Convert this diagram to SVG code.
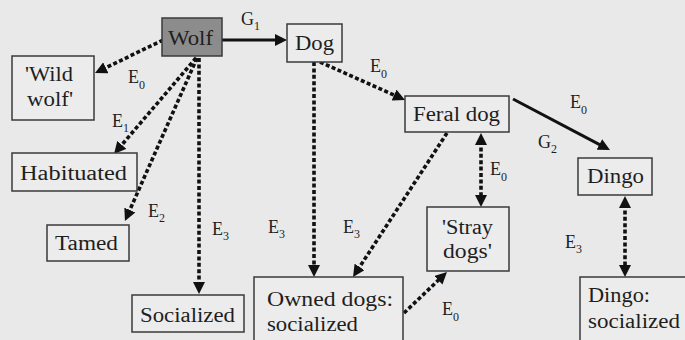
<svg xmlns="http://www.w3.org/2000/svg" width="685" height="340" viewBox="0 0 685 340">
<style>
.bg{fill:#e9e9e9}
.box{fill:#ececec;stroke:#3a3a3a;stroke-width:1.5}
.wolf{fill:#8c8c8c;stroke:#3a3a3a;stroke-width:1.5}
text{font-family:"Times New Roman","Liberation Serif","DejaVu Serif","Noto Serif",Georgia,serif}
.t{font-size:20px;fill:#1e1e1e}
.lb{font-size:18px;fill:#1e1e1e}
.sub{font-size:12px}
.dot{fill:none;stroke:#111;stroke-width:3.6;stroke-dasharray:4 2.4}
.sol{fill:none;stroke:#111;stroke-width:3}
</style>
<defs>
<marker id="ah" viewBox="0 0 12 12" markerWidth="12" markerHeight="12" refX="4" refY="6" orient="auto-start-reverse" markerUnits="userSpaceOnUse">
<path d="M0,0 L12,6 L0,12 z" fill="#111"/>
</marker>
</defs>
<rect class="bg" x="0" y="0" width="685" height="340"/>

<g id="connectors">
<line class="dot" x1="163" y1="40" x2="102.2" y2="69.5" marker-end="url(#ah)"/>
<line class="dot" x1="196" y1="58" x2="119.2" y2="147.9" marker-end="url(#ah)"/>
<line class="dot" x1="197" y1="58" x2="128.2" y2="213.7" marker-end="url(#ah)"/>
<line class="dot" x1="199" y1="58" x2="199" y2="286" marker-end="url(#ah)"/>
<line class="sol" x1="222" y1="40" x2="279" y2="40" marker-end="url(#ah)"/>
<line class="dot" x1="320" y1="62" x2="397.7" y2="96.7" marker-end="url(#ah)"/>
<line class="dot" x1="314" y1="62" x2="314" y2="269" marker-end="url(#ah)"/>
<line class="dot" x1="447" y1="133" x2="357.4" y2="270.3" marker-end="url(#ah)"/>
<line class="sol" x1="513" y1="99" x2="602.9" y2="146.3" marker-end="url(#ah)"/>
<line class="dot" x1="481" y1="141" x2="481" y2="199" marker-start="url(#ah)" marker-end="url(#ah)"/>
<line class="dot" x1="404" y1="313" x2="441.2" y2="277.5" marker-end="url(#ah)"/>
<line class="dot" x1="625" y1="204" x2="625" y2="269" marker-start="url(#ah)" marker-end="url(#ah)"/>

<text class="lb" x="241" y="25">G<tspan class="sub" dy="5">1</tspan></text>
<text class="lb" x="128" y="83">E<tspan class="sub" dy="6">0</tspan></text>
<text class="lb" x="112" y="127">E<tspan class="sub" dy="5">1</tspan></text>
<text class="lb" x="148" y="217">E<tspan class="sub" dy="5">2</tspan></text>
<text class="lb" x="212" y="235">E<tspan class="sub" dy="5">3</tspan></text>
<text class="lb" x="268" y="233">E<tspan class="sub" dy="5">3</tspan></text>
<text class="lb" x="343" y="233">E<tspan class="sub" dy="5">3</tspan></text>
<text class="lb" x="370" y="72">E<tspan class="sub" dy="6">0</tspan></text>
<text class="lb" x="570" y="108">E<tspan class="sub" dy="6">0</tspan></text>
<text class="lb" x="538" y="148">G<tspan class="sub" dy="5">2</tspan></text>
<text class="lb" x="490" y="175">E<tspan class="sub" dy="6">0</tspan></text>
<text class="lb" x="442" y="315">E<tspan class="sub" dy="6">0</tspan></text>
<text class="lb" x="565" y="248">E<tspan class="sub" dy="5">3</tspan></text>
</g>

<g id="wolf">
<rect class="wolf" x="162" y="18" width="60" height="38"/>
<text class="t" x="168" y="45" textLength="45" lengthAdjust="spacingAndGlyphs">Wolf</text>
</g>
<g id="wild-wolf">
<rect class="box" x="12" y="56" width="82" height="64"/>
<text class="t" x="25" y="81" textLength="48" lengthAdjust="spacingAndGlyphs">'Wild</text>
<text class="t" x="27" y="106" textLength="46" lengthAdjust="spacingAndGlyphs">wolf'</text>
</g>
<g id="dog">
<rect class="box" x="287" y="24" width="55" height="38"/>
<text class="t" x="295" y="50" textLength="39" lengthAdjust="spacingAndGlyphs">Dog</text>
</g>
<g id="feral-dog">
<rect class="box" x="405" y="96" width="104" height="36"/>
<text class="t" x="413" y="121" textLength="87" lengthAdjust="spacingAndGlyphs">Feral dog</text>
</g>
<g id="dingo">
<rect class="box" x="578" y="158" width="74" height="37"/>
<text class="t" x="587" y="183" textLength="57" lengthAdjust="spacingAndGlyphs">Dingo</text>
</g>
<g id="habituated">
<rect class="box" x="12" y="153" width="125" height="38"/>
<text class="t" x="20" y="180" textLength="107" lengthAdjust="spacingAndGlyphs">Habituated</text>
</g>
<g id="tamed">
<rect class="box" x="47" y="225" width="82" height="36"/>
<text class="t" x="55" y="250" textLength="63" lengthAdjust="spacingAndGlyphs">Tamed</text>
</g>
<g id="socialized">
<rect class="box" x="132" y="295" width="112" height="37"/>
<text class="t" x="140" y="322" textLength="95" lengthAdjust="spacingAndGlyphs">Socialized</text>
</g>
<g id="stray-dogs">
<rect class="box" x="427" y="207" width="82" height="64"/>
<text class="t" x="442" y="234" textLength="51" lengthAdjust="spacingAndGlyphs">'Stray</text>
<text class="t" x="443" y="258" textLength="49" lengthAdjust="spacingAndGlyphs">dogs'</text>
</g>
<g id="owned-dogs">
<rect class="box" x="254" y="277" width="149" height="70"/>
<text class="t" x="267" y="306" textLength="126" lengthAdjust="spacingAndGlyphs">Owned dogs:</text>
<text class="t" x="267" y="331" textLength="91" lengthAdjust="spacingAndGlyphs">socialized</text>
</g>
<g id="dingo-socialized">
<rect class="box" x="580" y="277" width="110" height="70"/>
<text class="t" x="588" y="302" textLength="62" lengthAdjust="spacingAndGlyphs">Dingo:</text>
<text class="t" x="588" y="328" textLength="92" lengthAdjust="spacingAndGlyphs">socialized</text>
</g>
</svg>
